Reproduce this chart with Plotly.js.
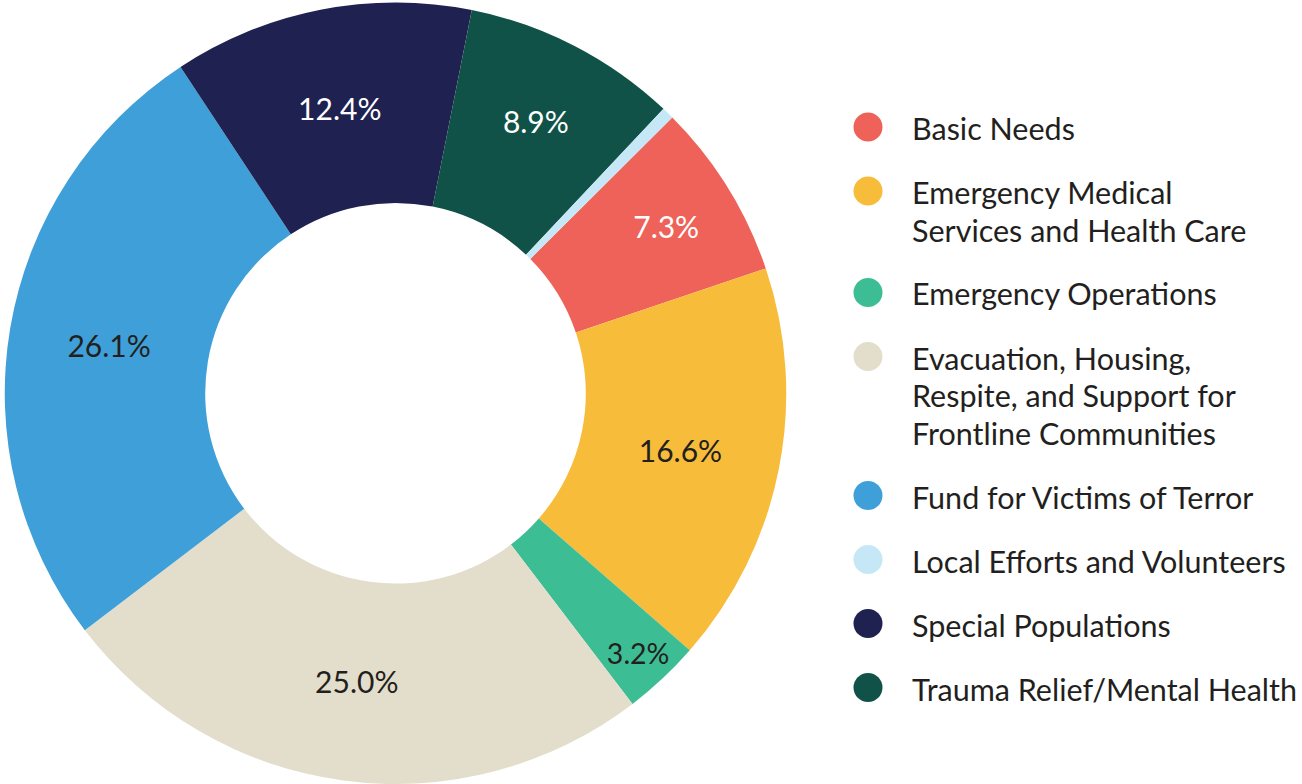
<!DOCTYPE html>
<html>
<head>
<meta charset="utf-8">
<script src="https://cdn.plot.ly/plotly-3.0.1.min.js"></script>
<style>html,body{margin:0;padding:0;background:#fff;}#chart{width:1302px;height:784px;}</style>
</head>
<body>
<div id="chart"></div>
<script>
// Categories (legend order)
const categories = [
  'Basic Needs',
  'Emergency Medical<br>Services and Health Care',
  'Emergency Operations',
  'Evacuation, Housing,<br>Respite, and Support for<br>Frontline Communities',
  'Fund for Victims of Terror',
  'Local Efforts and Volunteers',
  'Special Populations',
  'Trauma Relief/Mental Health'
];
// Share of funds, percent
const values = [7.3, 16.6, 3.2, 25.0, 26.1, 0.5, 12.4, 8.9];
const colors = ['#EE6259', '#F8BC3B', '#3DBD93', '#E3DECB', '#3FA0D9', '#C6E7F6', '#1F2150', '#115248'];
const labelColors = ['#ffffff', '#231F20', '#231F20', '#231F20', '#231F20', '#231F20', '#ffffff', '#ffffff'];
const showLabel = [true, true, true, true, true, false, true, true];
// Order of the slices clockwise around the ring
const sliceOrder = [0, 1, 2, 3, 4, 6, 7, 5];

const W = 1302, H = 784;
const FONT = 'Lato, "Open Sans", sans-serif';

const pieLabels = sliceOrder.map(i => categories[i].replace(/<br>/g, ' '));
const pieValues = sliceOrder.map(i => values[i]);
const pieColors = sliceOrder.map(i => colors[i]);
const pieText = sliceOrder.map(i => showLabel[i] ? values[i].toFixed(1) + '%' : '');
const pieTextColors = sliceOrder.map(i => labelColors[i]);

// Ring geometry (pixels)
const cx = 395.5, cy = 393.5, R = 391;

const trace = {
  type: 'pie',
  labels: pieLabels,
  values: pieValues,
  text: pieText,
  textinfo: 'text',
  hoverinfo: 'label+text',
  sort: false,
  direction: 'clockwise',
  rotation: 45.1,
  hole: 0.487,
  marker: {colors: pieColors, line: {width: 0}},
  textposition: 'inside',
  insidetextorientation: 'horizontal',
  textfont: {family: FONT, size: 30, color: pieTextColors},
  showlegend: false,
  domain: {x: [(cx - R) / W, (cx + R) / W], y: [1 - (cy + R) / H, 1 - (cy - R) / H]}
};

// Custom legend
const legX = 868, legTextX = 910, legY0 = 128, itemGap = 64, lineH = 37.5, dot = 29;
const shapes = [], annotations = [];
let extra = 0;
categories.forEach((cat, i) => {
  const lines = cat.split('<br>');
  const y = legY0 + itemGap * i + lineH * extra;
  shapes.push({
    type: 'circle', xref: 'paper', yref: 'paper',
    x0: (legX - dot / 2) / W, x1: (legX + dot / 2) / W,
    y0: 1 - (y - 1 + dot / 2) / H, y1: 1 - (y - 1 - dot / 2) / H,
    fillcolor: colors[i], line: {width: 0}
  });
  lines.forEach((ln, k) => {
    annotations.push({
      xref: 'paper', yref: 'paper', x: legTextX / W, y: 1 - (y + k * lineH) / H,
      xanchor: 'left', yanchor: 'middle', showarrow: false, text: ln,
      font: {family: FONT, size: 30.5, color: '#231F20'}
    });
  });
  extra += lines.length - 1;
});

const layout = {
  width: W, height: H,
  margin: {l: 0, r: 0, t: 0, b: 0},
  paper_bgcolor: '#ffffff',
  showlegend: false,
  shapes: shapes,
  annotations: annotations,
  uniformtext: {mode: false}
};

Plotly.newPlot('chart', [trace], layout, {displayModeBar: false, staticPlot: true});
</script>
</body>
</html>
